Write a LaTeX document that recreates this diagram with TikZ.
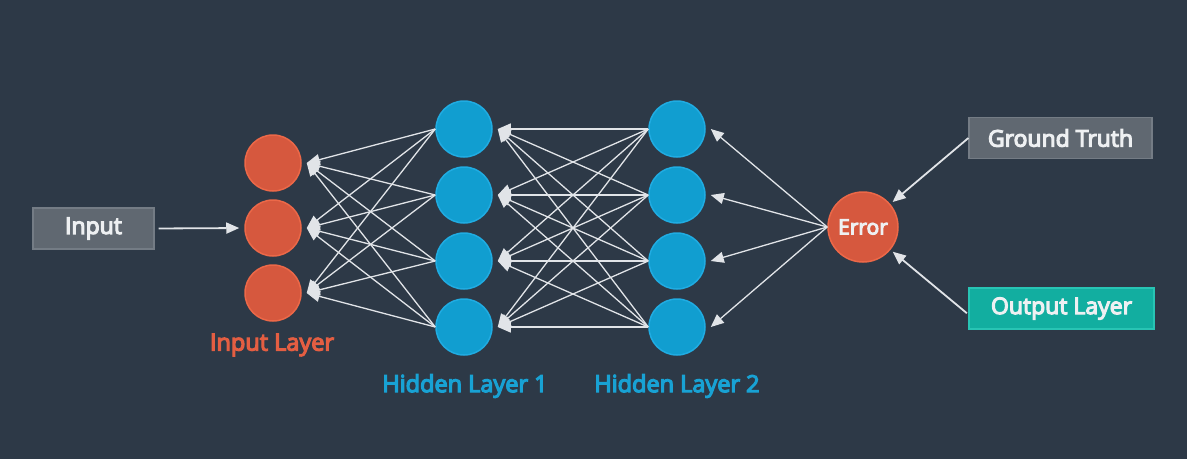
\documentclass[tikz,border=0pt]{standalone}
\usepackage{fontspec}
\setmainfont{Open Sans}[FakeBold=5]
\usetikzlibrary{arrows.meta,calc}
\definecolor{bg}{RGB}{45,57,71}
\definecolor{orfill}{RGB}{214,88,62}
\definecolor{ordraw}{RGB}{236,104,72}
\definecolor{orlabel}{RGB}{228,94,66}
\definecolor{blfill}{RGB}{17,158,208}
\definecolor{bldraw}{RGB}{32,172,226}
\definecolor{bllabel}{RGB}{24,162,212}
\definecolor{gyfill}{RGB}{96,104,113}
\definecolor{gydraw}{RGB}{116,124,133}
\definecolor{tlfill}{RGB}{18,174,160}
\definecolor{tldraw}{RGB}{40,196,180}
\definecolor{wire}{RGB}{225,228,232}
\definecolor{boxtxt}{RGB}{238,240,242}
\tikzset{
  x=1pt,y=-1pt,
  txt/.style={font=\fontsize{23.5}{26}\selectfont},
  boxfont/.style={font=\fontsize{23}{26}\selectfont},
  incirc/.style={circle,fill=orfill,draw=ordraw,line width=1.5pt,minimum size=56pt,inner sep=0pt},
  hidcirc/.style={circle,fill=blfill,draw=bldraw,line width=1.5pt,minimum size=56pt,inner sep=0pt},
  errcirc/.style={circle,fill=orfill,draw=ordraw,line width=1.5pt,minimum size=70pt,inner sep=0pt,text=boxtxt,font=\fontsize{21}{24}\selectfont},
  graybox/.style={rectangle,fill=gyfill,draw=gydraw,line width=1.2pt,text=boxtxt,boxfont,minimum height=41pt,inner sep=0pt},
  tealbox/.style={rectangle,fill=tlfill,draw=tldraw,line width=1.2pt,text=boxtxt,boxfont,minimum height=41pt,inner sep=0pt},
  wirearr/.style={draw=wire,line width=1.3pt,-{Triangle[length=13pt,width=11pt]}},
}
\begin{document}
\begin{tikzpicture}
\fill[bg] (0,0) rectangle (1187,459);
\useasboundingbox (0,0) rectangle (1187,459);

% input layer
\node[incirc] (in1) at (273,163) {};
\node[incirc] (in2) at (273,228) {};
\node[incirc] (in3) at (273,293) {};
% hidden layer 1
\node[hidcirc] (ha1) at (464,129) {};
\node[hidcirc] (ha2) at (464,195) {};
\node[hidcirc] (ha3) at (464,261) {};
\node[hidcirc] (ha4) at (464,327) {};
% hidden layer 2
\node[hidcirc] (hb1) at (677,129) {};
\node[hidcirc] (hb2) at (677,195) {};
\node[hidcirc] (hb3) at (677,261) {};
\node[hidcirc] (hb4) at (677,327) {};
% error
\node[errcirc] (err) at (863,227) {Error};

% boxes
\node[graybox,minimum width=121pt] (inbox) at (93.5,228.5) {Input};
\node[graybox,minimum width=183pt] (gt) at (1060.5,138) {Ground Truth};
\node[tealbox,minimum width=185pt] (ol) at (1061.5,308.5) {Output Layer};

% labels
\node[txt,text=orlabel] (lin) at (272,345) {Input Layer};
\node[txt,text=bllabel] (lh1) at (465,386) {Hidden Layer 1};
\node[txt,text=bllabel] (lh2) at (677,386) {Hidden Layer 2};

% input arrow
\draw[wirearr,line width=1.8pt,shorten <=4pt,shorten >=5pt] (inbox.east) -- (in2.west);

% hidden1 -> input
\foreach \i in {1,...,4}{
  \foreach \j in {1,2,3}{
    \draw[wirearr] (ha\i.west) -- ([xshift=5pt]in\j.east);
  }
}
% hidden2 -> hidden1
\foreach \i in {1,...,4}{
  \foreach \j in {1,...,4}{
    \draw[wirearr] (hb\i.west) -- ([xshift=5pt]ha\j.east);
  }
}
% error -> hidden2
\foreach \j in {1,...,4}{
  \draw[wirearr] (err.west) -- ([xshift=5pt]hb\j.east);
}
% ground truth / output -> error
\draw[wirearr,line width=1.8pt,shorten >=3pt] (gt.west) -- (err);
\draw[wirearr,line width=1.8pt,shorten >=3pt,shorten <=2pt] ([yshift=-6pt]ol.west) -- (err);
\end{tikzpicture}
\end{document}
